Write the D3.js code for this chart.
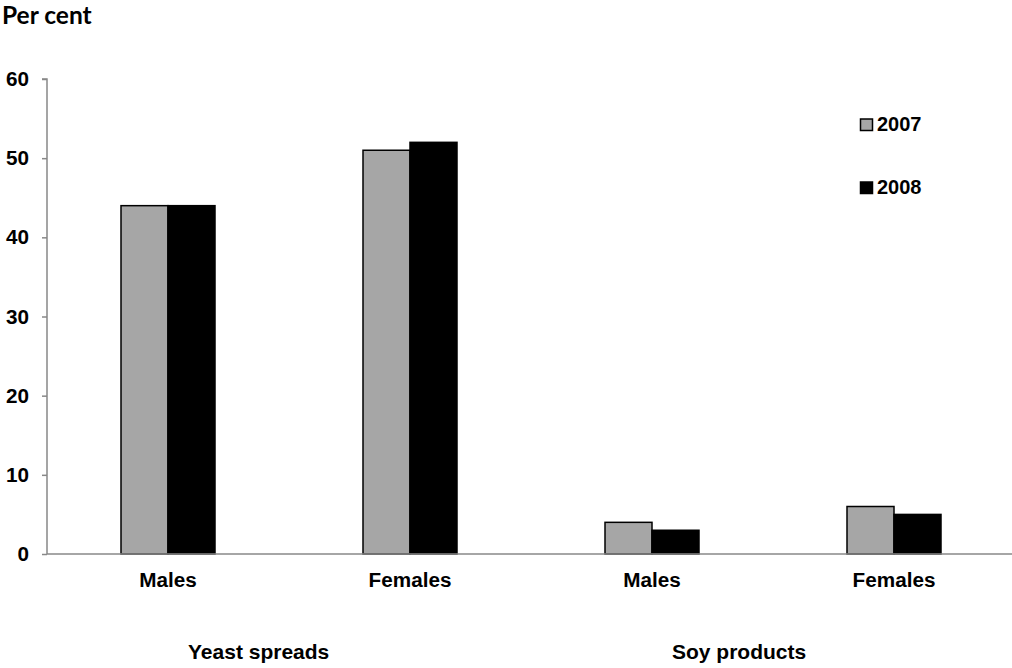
<!DOCTYPE html>
<html>
<head>
<meta charset="utf-8">
<script src="https://cdn.jsdelivr.net/npm/d3@7"></script>
<style>
  html, body { margin: 0; padding: 0; background: #fff; }
  svg { display: block; }
</style>
</head>
<body>
<svg id="chart" width="1012" height="668"></svg>
<script>
// Share of people (per cent) using each product, by sex and year
const categories = ["Males", "Females", "Males", "Females"];
const groups = [
  { name: "Yeast spreads", span: [0, 1] },
  { name: "Soy products", span: [2, 3] }
];
const seriesNames = ["2007", "2008"];
const values2007 = [44, 51, 4, 6];
const values2008 = [44, 52, 3, 5];
const yTicks = [0, 10, 20, 30, 40, 50, 60];

const series = [
  { name: seriesNames[0], values: values2007, fill: "#a6a6a6" },
  { name: seriesNames[1], values: values2008, fill: "#000000" }
];

const svg = d3.select("#chart");
const plotLeft = 47, plotRight = 1015, plotTop = 79, plotBottom = 554;
const axisColor = "#888888";
const boldFont = "'Liberation Sans', Arial, sans-serif";
const labelSize = 20.7;

const x = d3.scaleBand().domain(d3.range(categories.length)).range([plotLeft, plotRight]).paddingInner(0).paddingOuter(0);
const y = d3.scaleLinear().domain([0, 60]).range([plotBottom, plotTop]);
const xs = d3.scaleBand().domain(seriesNames).range([0, 94]);
const groupOffset = (x.bandwidth() - 94) / 2;

// Bars
series.forEach(s => {
  svg.append("g").selectAll("rect").data(s.values).join("rect")
    .attr("x", (d, i) => x(i) + groupOffset + xs(s.name))
    .attr("y", d => y(d))
    .attr("width", xs.bandwidth())
    .attr("height", d => y(0) - y(d))
    .attr("fill", s.fill)
    .attr("stroke", "#000")
    .attr("stroke-width", 1.5);
});

// Y axis
const yAxis = svg.append("g").attr("transform", `translate(${plotLeft},0)`)
  .call(d3.axisLeft(y).tickValues(yTicks).tickSize(5).tickPadding(13));
yAxis.select(".domain").attr("stroke", axisColor).attr("stroke-width", 1.5).attr("d", `M-5,${plotTop}H0V${plotBottom}`);
yAxis.selectAll(".tick line").attr("stroke", axisColor).attr("stroke-width", 1.5);
yAxis.selectAll(".tick text").attr("font-family", boldFont).attr("font-weight", "bold")
  .attr("font-size", labelSize).attr("fill", "#000");

// X axis baseline
svg.append("line").attr("x1", plotLeft).attr("x2", plotRight).attr("y1", y(0)).attr("y2", y(0))
  .attr("stroke", axisColor).attr("stroke-width", 1.5);

// Category labels
svg.append("g").selectAll("text").data(categories).join("text")
  .attr("x", (d, i) => x(i) + x.bandwidth() / 2)
  .attr("y", 587)
  .attr("text-anchor", "middle")
  .attr("font-family", boldFont).attr("font-weight", "bold").attr("font-size", labelSize)
  .text(d => d);

// Group labels, set in from the left edge of each group
svg.append("g").selectAll("text").data(groups).join("text")
  .attr("x", g => x(g.span[0]) + 141)
  .attr("y", 659)
  .attr("text-anchor", "start")
  .attr("font-family", boldFont).attr("font-weight", "bold").attr("font-size", 21)
  .text(g => g.name);

// Axis title
svg.append("text").attr("x", 2).attr("y", 23.5)
  .attr("font-family", "Lato, 'Open Sans', sans-serif").attr("font-weight", "bold").attr("font-size", 24.5)
  .text("Per cent");

// Legend
const legend = svg.append("g").selectAll("g").data(series).join("g")
  .attr("transform", (d, i) => `translate(860.5,${119 + i * 63})`);
legend.append("rect").attr("width", 12).attr("height", 11.5)
  .attr("fill", d => d.fill).attr("stroke", "#000").attr("stroke-width", 1.5);
legend.append("text").attr("x", 16.5).attr("y", 12)
  .attr("font-family", boldFont).attr("font-weight", "bold").attr("font-size", 20)
  .text(d => d.name);
</script>
</body>
</html>
